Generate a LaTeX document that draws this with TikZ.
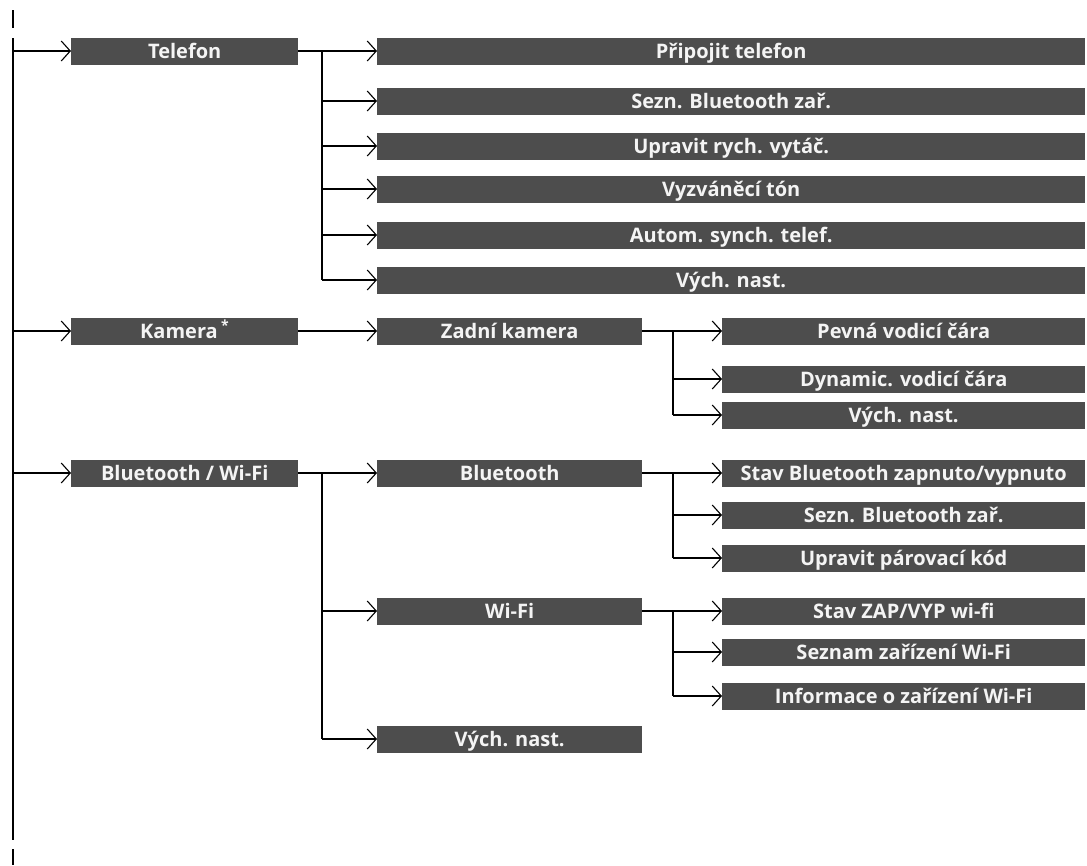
\documentclass[tikz,border=0pt]{standalone}
\usepackage{fontspec}
\setmainfont{Open Sans}
\usetikzlibrary{arrows.meta}
\definecolor{boxgray}{HTML}{4D4D4D}
\definecolor{boxtext}{HTML}{F4F4F4}
\newcommand\menubox[5]{\node[mbox, minimum width={#3pt-#2pt}] (#1) at (#2,#4) {#5};}
\begin{document}
\begin{tikzpicture}[x=1pt,y=-1pt,
  ln/.style={line width=1.8pt},
  arr/.style={line width=1.8pt, -{Straight Barb[length=9pt,width=20pt,line width=1.1pt]}},
  mbox/.style={fill=boxgray, text=boxtext, font=\fontsize{20}{22}\selectfont\bfseries,
    inner sep=0pt, minimum height=27pt, anchor=west, text height=14.3pt, text depth=0pt}]
\useasboundingbox (0,0) rectangle (1087,865);
% level 1
\menubox{tel}{71}{298}{51}{Telefon}
\menubox{kam}{71}{298}{331}{Kamera\,\textsuperscript{*}}
\menubox{btw}{71}{298}{473}{Bluetooth / Wi-Fi}
% Telefon children
\menubox{t1}{377}{1085}{51}{Připojit telefon}
\menubox{t2}{377}{1085}{101}{Sezn. Bluetooth zař.}
\menubox{t3}{377}{1085}{146}{Upravit rych. vytáč.}
\menubox{t4}{377}{1085}{189}{Vyzváněcí tón}
\menubox{t5}{377}{1085}{235}{Autom. synch. telef.}
\menubox{t6}{377}{1085}{280}{Vých. nast.}
% Kamera
\menubox{zk}{377}{642}{331}{Zadní kamera}
\menubox{k1}{722}{1085}{331}{Pevná vodicí čára}
\menubox{k2}{722}{1085}{379}{Dynamic. vodicí čára}
\menubox{k3}{722}{1085}{415}{Vých. nast.}
% Bluetooth / Wi-Fi
\menubox{bt}{377}{642}{473}{Bluetooth}
\menubox{b1}{722}{1085}{473}{Stav Bluetooth zapnuto/vypnuto}
\menubox{b2}{722}{1085}{515}{Sezn. Bluetooth zař.}
\menubox{b3}{722}{1085}{558}{Upravit párovací kód}
\menubox{wf}{377}{642}{611}{Wi-Fi}
\menubox{w1}{722}{1085}{611}{Stav ZAP/VYP wi-fi}
\menubox{w2}{722}{1085}{652}{Seznam zařízení Wi-Fi}
\menubox{w3}{722}{1085}{696}{Informace o zařízení Wi-Fi}
\menubox{vn}{377}{642}{739}{Vých. nast.}
% trunk
\coordinate (trunk) at (13,0);
\coordinate (v1) at (322,0);
\coordinate (v2) at (673,0);
\draw[ln] (13,10) -- (13,28);
\draw[ln] (13,38) -- (13,840);
\draw[ln] (13,849) -- (13,865);
\foreach \n in {tel,kam,btw} \draw[arr] (trunk |- \n.west) -- (\n.west);
% Telefon
\draw[arr] (tel.east) -- (t1.west);
\draw[ln] (v1 |- t1.west) -- (v1 |- t6.west);
\foreach \n in {t2,t3,t4,t5,t6} \draw[arr] (v1 |- \n.west) -- (\n.west);
% Kamera
\draw[arr] (kam.east) -- (zk.west);
\draw[arr] (zk.east) -- (k1.west);
\draw[ln] (v2 |- k1.west) -- (v2 |- k3.west);
\foreach \n in {k2,k3} \draw[arr] (v2 |- \n.west) -- (\n.west);
% Bluetooth / Wi-Fi
\draw[arr] (btw.east) -- (bt.west);
\draw[ln] (v1 |- bt.west) -- (v1 |- vn.west);
\foreach \n in {wf,vn} \draw[arr] (v1 |- \n.west) -- (\n.west);
\draw[arr] (bt.east) -- (b1.west);
\draw[ln] (v2 |- b1.west) -- (v2 |- b3.west);
\foreach \n in {b2,b3} \draw[arr] (v2 |- \n.west) -- (\n.west);
\draw[arr] (wf.east) -- (w1.west);
\draw[ln] (v2 |- w1.west) -- (v2 |- w3.west);
\foreach \n in {w2,w3} \draw[arr] (v2 |- \n.west) -- (\n.west);
\end{tikzpicture}
\end{document}
